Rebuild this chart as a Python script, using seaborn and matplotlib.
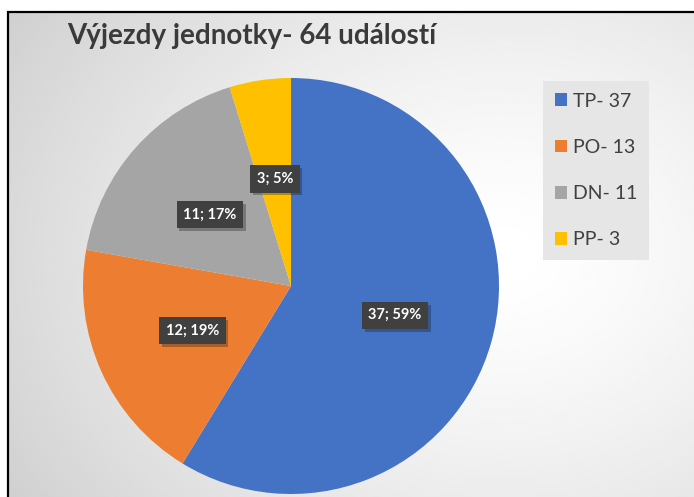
import numpy as np
import matplotlib.pyplot as plt
import matplotlib.patheffects as pe
from matplotlib.patches import Rectangle
import seaborn as sns

sns.set_theme(style='white')
plt.rcParams['font.family'] = ['Lato', 'DejaVu Sans']

# data
categories = ['TP', 'PO', 'DN', 'PP']
values = [37, 12, 11, 3]
legend_labels = ['TP- 37', 'PO- 13', 'DN- 11', 'PP- 3']
title = 'Výjezdy jednotky- 64 událostí'
colors = sns.color_palette(['#4472C4', '#ED7D31', '#A5A5A5', '#FFC000'])

W, H = 694, 497
fig = plt.figure(figsize=(W / 100, H / 100), dpi=100)
fig.patch.set_facecolor('white')

# background gradient inside the frame
bg = fig.add_axes([8 / W, 0, 1 - 8 / W, 1 - 12 / H])
bg.set_axis_off()
yy, xx = np.mgrid[0:200, 0:300]
xx = xx / 300.0
yy = yy / 200.0
d = np.sqrt(((xx - 0.72) / 0.8) ** 2 + ((yy - 0.5) / 0.9) ** 2)
shade = np.clip(1.0 - 0.17 * d ** 1.4, 0.82, 1.0)
bg.imshow(shade, cmap='gray', vmin=0, vmax=1, aspect='auto',
          extent=[0, 1, 0, 1], interpolation='bilinear')
bg.set_xlim(0, 1)
bg.set_ylim(0, 1)

# frame
fig.patches.append(Rectangle((8 / W, -0.05), 1.2, 1 - 12 / H + 0.05,
                             transform=fig.transFigure, fill=False,
                             edgecolor='black', linewidth=1.6, zorder=10))

# pie
cx, cy, r = 291, 286, 208
ax = fig.add_axes([(cx - r) / W, (H - cy - r) / H, 2 * r / W, 2 * r / H])
total = sum(values)


def fmt(pct):
    v = int(round(pct * total / 100.0))
    return f'{v}; {pct:.0f}%'


wedges, _, autotexts = ax.pie(values, colors=colors, startangle=90,
                              counterclock=False, autopct=fmt,
                              pctdistance=0.52, radius=1,
                              wedgeprops=dict(linewidth=0))
for t in autotexts:
    t.set_color('white')
    t.set_fontsize(10.5)
    t.set_fontweight('bold')
    t.set_bbox(dict(boxstyle='square,pad=0.45', facecolor='#404040',
                    edgecolor='none',
                    path_effects=[pe.withSimplePatchShadow(offset=(2, -2), alpha=0.3)]))
ax.set_xlim(-1, 1)
ax.set_ylim(-1, 1)
ax.set_aspect('auto')
ax.set_axis_off()

# title
fig.text(67 / W, 1 - 36 / H, title, fontsize=20, fontweight='bold',
         color='#3a3a3a', ha='left', va='center')

# legend
leg = fig.legend(wedges, legend_labels, loc='upper left',
                 bbox_to_anchor=(543 / W, 1 - 81 / H), frameon=True,
                 fancybox=False, facecolor='#e6e6e6', edgecolor='none',
                 framealpha=1, fontsize=14, labelspacing=1.5,
                 handlelength=0.65, handleheight=0.65, handletextpad=0.3,
                 borderpad=0.6, borderaxespad=0, labelcolor='#404040')

fig.savefig('out.png', dpi=100)
